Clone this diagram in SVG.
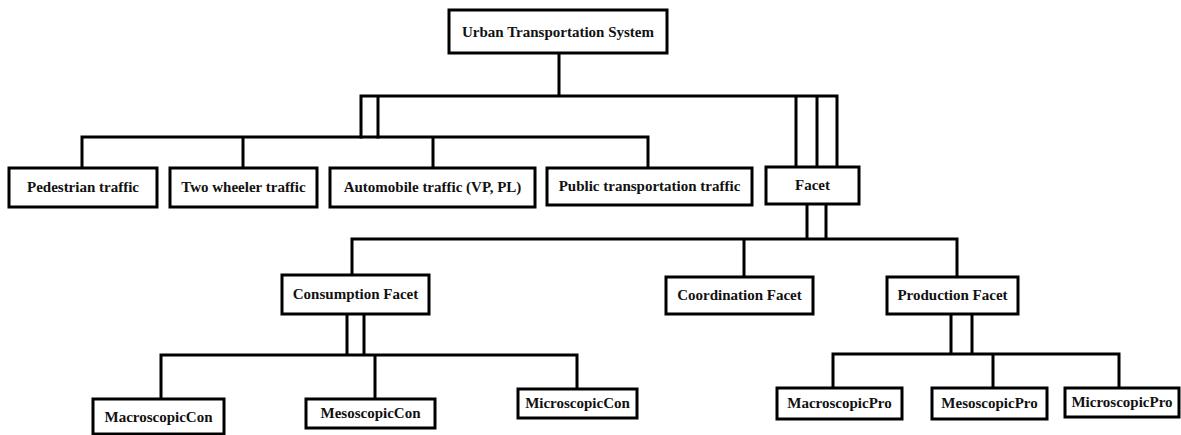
<svg xmlns="http://www.w3.org/2000/svg" width="1181" height="435" viewBox="0 0 1181 435">
<style>
.box{fill:#fff;stroke:#000;stroke-width:3}
.lbl{font-family:'Liberation Serif','DejaVu Serif',serif;font-weight:bold;font-size:15px;fill:#111;text-anchor:middle}
.conn{fill:none;stroke:#000;stroke-width:3;stroke-linecap:square}
</style>
<rect width="1181" height="435" fill="#fff"/>
<g id="connectors">
<path class="conn" d="M559 53V96M361 96H837M361 96V137M378 96V137M796 96V167M817 96V167M837 96V167"/>
<path class="conn" d="M82 137H648M82 137V168M243 137V168M433 137V168M648 137V168"/>
<path class="conn" d="M807 204V239M826 204V239M352 239H957M352 239V275M744 239V277M957 239V277"/>
<path class="conn" d="M347 314V355M364 314V355M161 355H577M161 355V399M375 355V399M577 355V389"/>
<path class="conn" d="M951 314V354M972 314V354M833 354H1119M833 354V388M993 354V388M1119 354V388"/>
</g>
<g id="n-root"><rect class="box" x="449" y="10" width="218" height="43"/><text class="lbl" x="558" y="37">Urban Transportation System</text></g>
<g id="n-ped"><rect class="box" x="9" y="168" width="148" height="39"/><text class="lbl" x="83" y="192">Pedestrian traffic</text></g>
<g id="n-two"><rect class="box" x="170" y="168" width="147" height="39"/><text class="lbl" x="243.5" y="192">Two wheeler traffic</text></g>
<g id="n-auto"><rect class="box" x="330" y="168" width="205" height="39"/><text class="lbl" x="432.5" y="192">Automobile traffic (VP, PL)</text></g>
<g id="n-public"><rect class="box" x="547" y="168" width="205" height="37"/><text class="lbl" x="649.5" y="191">Public transportation traffic</text></g>
<g id="n-facet"><rect class="box" x="766" y="167" width="93" height="37"/><text class="lbl" x="812.5" y="190">Facet</text></g>
<g id="n-cons"><rect class="box" x="282" y="275" width="147" height="39"/><text class="lbl" x="355.5" y="299">Consumption Facet</text></g>
<g id="n-coord"><rect class="box" x="666" y="277" width="147" height="37"/><text class="lbl" x="739.5" y="300">Coordination Facet</text></g>
<g id="n-prod"><rect class="box" x="887" y="277" width="131" height="37"/><text class="lbl" x="952.5" y="300">Production Facet</text></g>
<g id="n-macrocon"><rect class="box" x="93" y="399" width="131" height="35"/><text class="lbl" x="158.5" y="422">MacroscopicCon</text></g>
<g id="n-mesocon"><rect class="box" x="306" y="399" width="129" height="29"/><text class="lbl" x="370.5" y="418">MesoscopicCon</text></g>
<g id="n-microcon"><rect class="box" x="518" y="389" width="119" height="29"/><text class="lbl" x="577.5" y="408">MicroscopicCon</text></g>
<g id="n-macropro"><rect class="box" x="777" y="388" width="125" height="31"/><text class="lbl" x="839.5" y="408">MacroscopicPro</text></g>
<g id="n-mesopro"><rect class="box" x="932" y="388" width="115" height="31"/><text class="lbl" x="989.5" y="408">MesoscopicPro</text></g>
<g id="n-micropro"><rect class="box" x="1065" y="388" width="114" height="29"/><text class="lbl" x="1122" y="407">MicroscopicPro</text></g>
</svg>
